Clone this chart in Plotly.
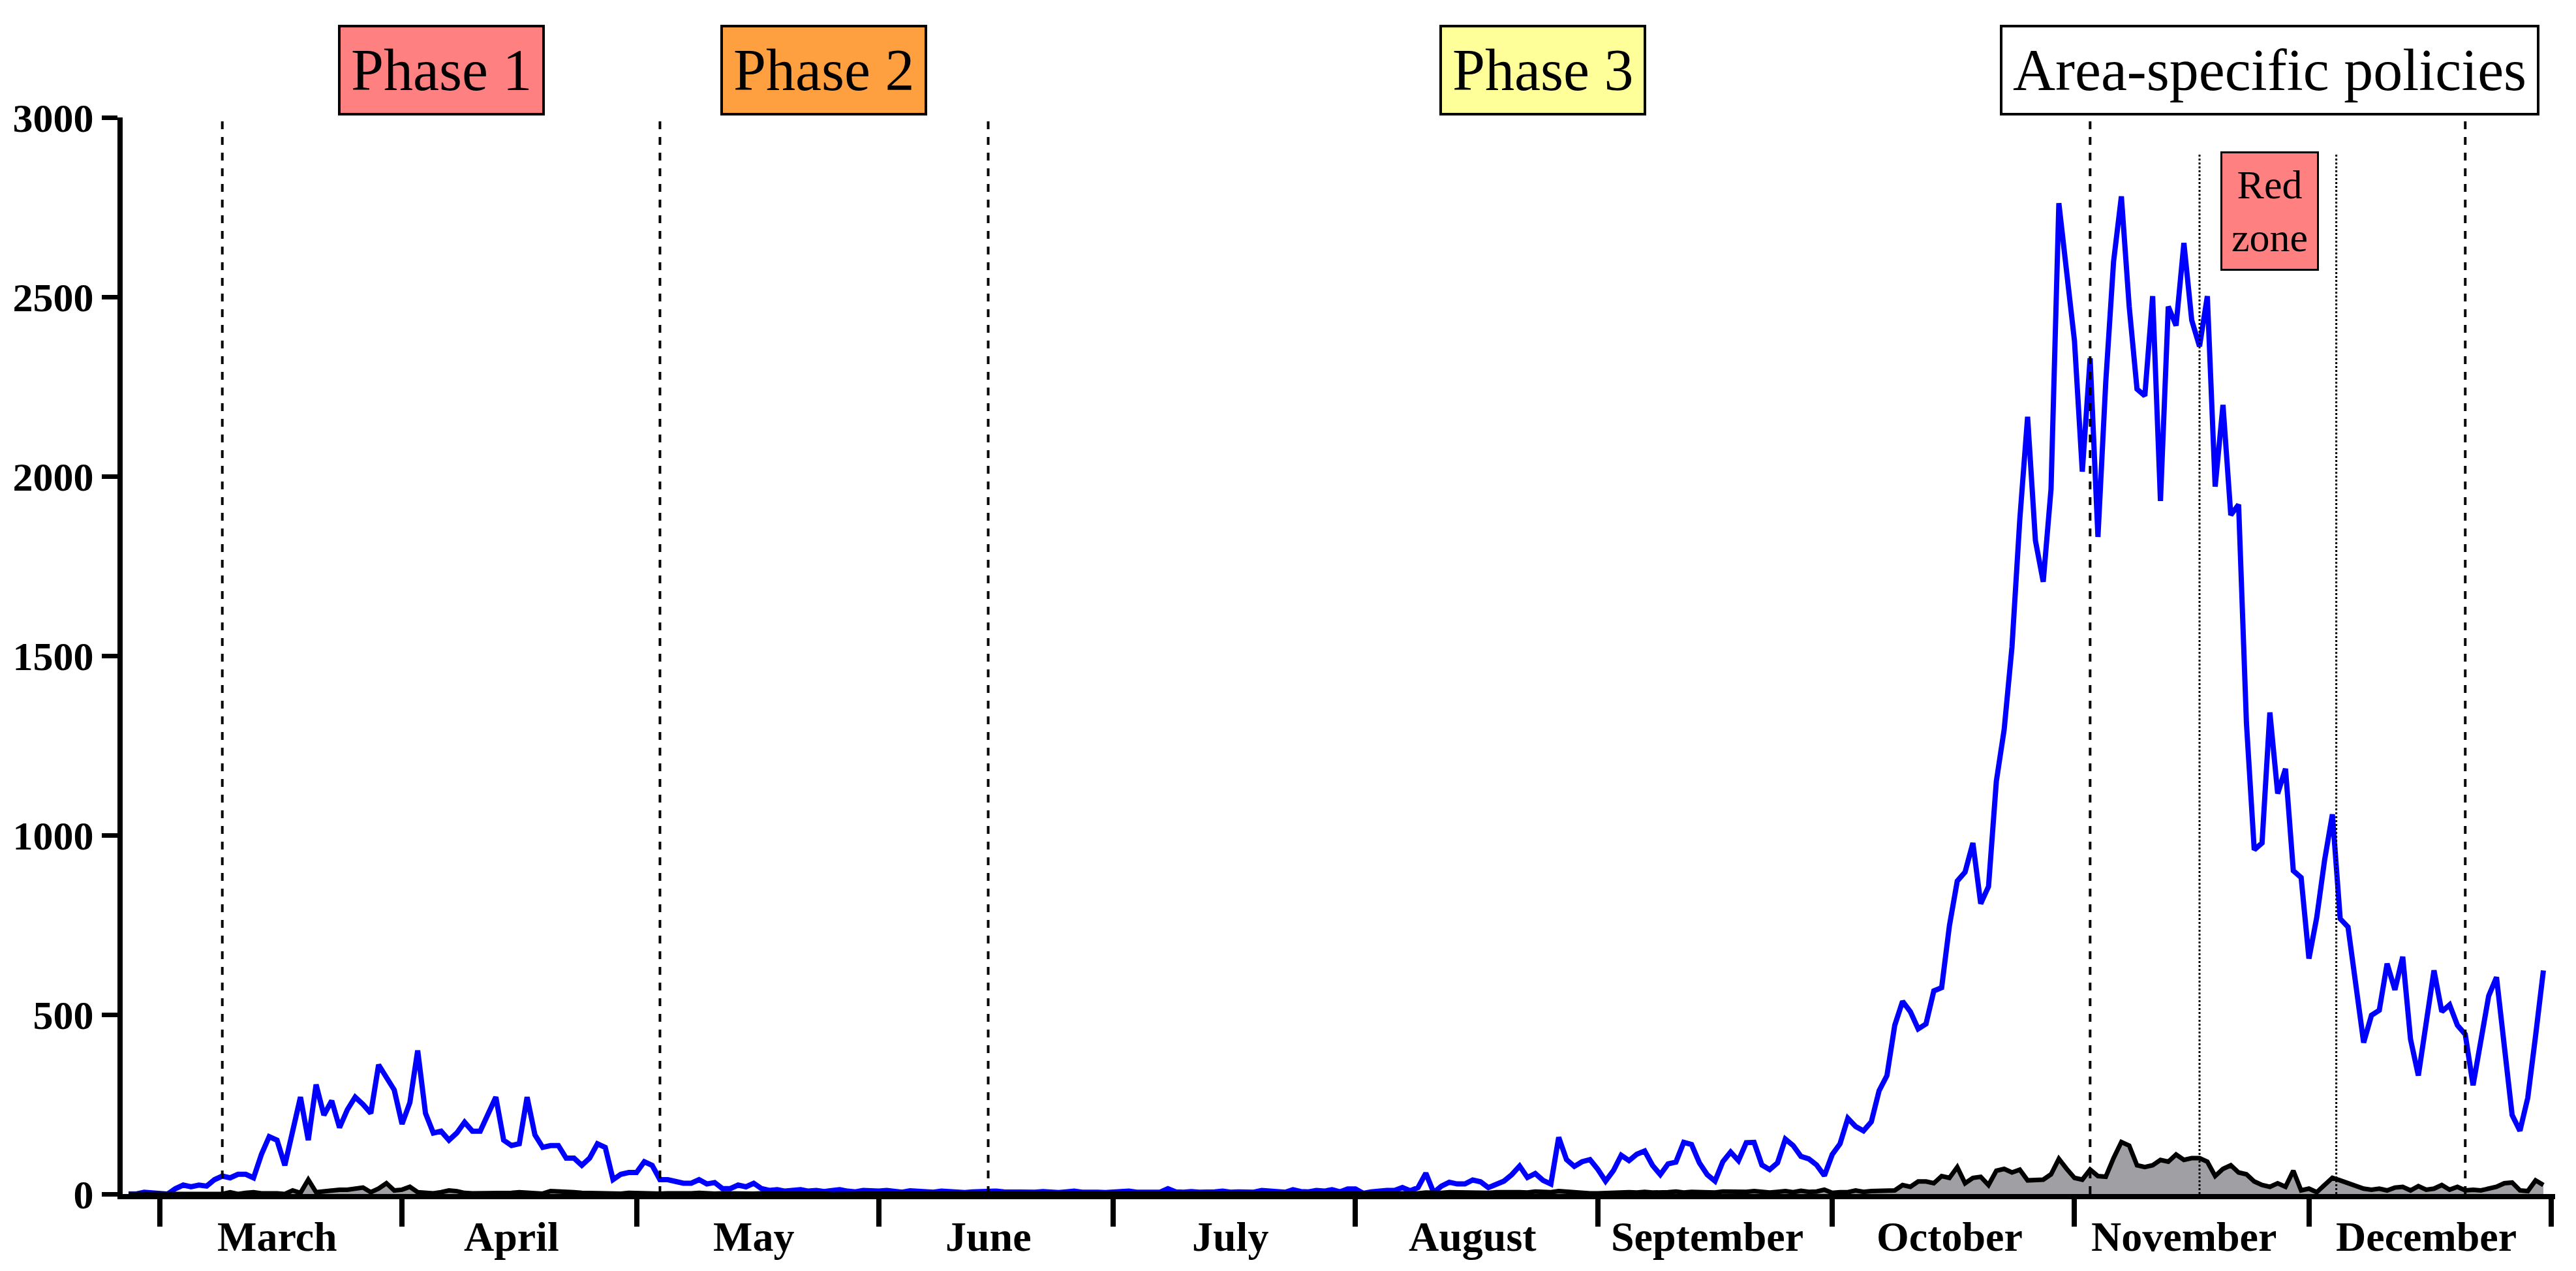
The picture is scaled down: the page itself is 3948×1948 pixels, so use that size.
import plotly.graph_objects as go
import pandas as pd

# Daily new cases (blue) by month
cases_feb = [0, 0, 5, 3]
cases_mar = [2,0,15,25,20,25,22,40,50,45,55,55,45,110,160,150,80,175,270,150,305,220,260,185,235,270,250,225,360,325,290]
cases_apr = [195,255,400,225,170,175,150,170,200,175,175,225,270,150,135,140,270,165,130,135,135,100,100,80,100,140,130,40,55,60]
cases_may = [60,90,80,40,40,35,30,30,40,28,32,15,15,25,20,30,15,10,12,8,10,12,8,10,7,10,12,8,6,10,8]
cases_jun = [8,10,6,5,9,7,6,5,8,6,5,4,6,7,5,8,6,5,4,6,5,7,5,4,6,8,5,6,5,4]
cases_jul = [5,6,8,5,4,6,5,15,6,5,7,5,4,6,8,5,6,7,5,10,8,6,5,12,7,6,10,8,12,6,14]
cases_aug = [14,2,6,9,10,10,18,9,18,58,4,22,33,28,28,39,34,18,27,36,54,78,46,57,38,28,158,96,77,90,96]
cases_sep = [69,36,65,108,93,111,120,80,54,84,89,144,138,87,54,36,90,117,93,143,144,81,68,87,153,135,105,98,81,51]
cases_oct = [110,140,211,188,176,201,288,330,470,537,508,460,474,566,575,748,872,897,978,809,857,1150,1294,1524,1879,2166,1821,1706,1965,2761,2569]
cases_nov = [2377,2013,2329,1831,2262,2598,2780,2473,2243,2224,2502,1931,2473,2420,2650,2435,2362,2502,1971,2199,1892,1921,1313,959,978,1342,1116,1185,901,882]
cases_dec = [656,771,930,1058,767,744,594,422,498,512,642,569,661,431,330,479,623,508,527,470,445,303,431,552,604,403,220,176,268,441,623]

# Daily deaths (black, filled)
deaths_feb = [0, 0, 0, 0]
deaths_mar = [0,0,0,0,2,2,3,0,0,5,0,3,5,2,3,2,0,10,3,40,5,8,10,12,12,15,18,5,15,30,10]
deaths_apr = [12,20,5,3,2,5,10,8,3,2,2,1,0,2,3,5,3,2,1,8,8,7,5,3,2,2,3,2,1,3]
deaths_may = [2,3,2,1,2,1,1,2,3,1,1,2,1,1,0,1,2,1,1,0,1,1,2,1,1,0,1,1,0,1,1]
deaths_jun = [1,0,1,1,0,1,2,1,0,1,1,0,1,0,1,1,0,1,1,0,1,0,1,1,0,1,0,1,1,0]
deaths_jul = [1,0,1,1,2,1,0,1,1,0,2,1,1,0,1,2,1,0,1,1,0,2,1,1,0,1,2,1,1,0,2]
deaths_aug = [2,1,2,3,2,1,3,2,2,4,2,3,5,4,3,5,4,3,5,6,6,5,4,7,6,5,8,6,3,2,2]
deaths_sep = [2,3,5,4,5,4,6,4,3,5,7,4,6,5,3,4,7,6,5,6,8,5,4,6,8,5,9,6,7,12]
deaths_oct = [3,5,5,10,6,8,8,10,10,25,20,35,35,30,50,45,75,30,45,48,25,65,70,60,68,38,38,40,55,98,70]
deaths_nov = [45,40,68,50,48,100,145,135,80,75,80,95,90,110,95,100,100,90,50,70,80,60,55,35,25,20,30,20,65,10]
deaths_dec = [15,5,25,45,38,30,25,15,12,15,10,18,20,10,22,12,15,25,12,20,10,12,10,15,20,30,32,10,8,38,25]

months = ["2020-02-26","2020-03-01","2020-04-01","2020-05-01","2020-06-01","2020-07-01",
          "2020-08-01","2020-09-01","2020-10-01","2020-11-01","2020-12-01"]
case_parts = [cases_feb,cases_mar,cases_apr,cases_may,cases_jun,cases_jul,cases_aug,cases_sep,cases_oct,cases_nov,cases_dec]
death_parts = [deaths_feb,deaths_mar,deaths_apr,deaths_may,deaths_jun,deaths_jul,deaths_aug,deaths_sep,deaths_oct,deaths_nov,deaths_dec]

xc, yc, xd, yd = [], [], [], []
for m, c, d in zip(months, case_parts, death_parts):
    xc += list(pd.date_range(m, periods=len(c)))
    yc += c
    xd += list(pd.date_range(m, periods=len(d)))
    yd += d

month_labels = ["March","April","May","June","July","August","September","October","November","December"]
month_starts = ["2020-03-01","2020-04-01","2020-05-01","2020-06-01","2020-07-01","2020-08-01",
                "2020-09-01","2020-10-01","2020-11-01","2020-12-01","2021-01-01"]
label_pos = ["2020-03-16","2020-04-15","2020-05-16","2020-06-15","2020-07-16","2020-08-16",
             "2020-09-15","2020-10-16","2020-11-15","2020-12-16"]
dashed_dates = ["2020-03-09","2020-05-04","2020-06-15","2020-11-03","2020-12-21"]
dotted_dates = ["2020-11-17","2020-12-04T12:00"]

phase_texts = ["Phase 1","Phase 2","Phase 3","Area-specific policies"]
phase_x = ["2020-04-06","2020-05-25","2020-08-25","2020-11-26"]
phase_colors = ["#FF8080","#FFA040","#FFFF99","#FFFFFF"]

serif = "Liberation Serif"
fig = go.Figure()
fig.add_trace(go.Scatter(x=xc, y=yc, mode="lines", line=dict(color="#0000FF", width=8), showlegend=False))
fig.add_trace(go.Scatter(x=xd, y=yd, mode="lines", fill="tozeroy", fillcolor="#A0A0A4",
                         line=dict(color="black", width=7), showlegend=False))

shapes = []
for d in dashed_dates:
    shapes.append(dict(type="line", x0=d, x1=d, y0=0, y1=3000, xref="x", yref="y",
                       line=dict(color="black", width=4, dash="dash")))
for d in dotted_dates:
    shapes.append(dict(type="line", x0=d, x1=d, y0=0, y1=2900, xref="x", yref="y",
                       line=dict(color="black", width=3, dash="dot")))

ann = []
for lab, p in zip(month_labels, label_pos):
    ann.append(dict(x=p, y=0, xref="x", yref="y", text="<b>%s</b>" % lab, showarrow=False,
                    yanchor="top", yshift=-28, font=dict(family=serif, size=64, color="black")))
for t, xp, col in zip(phase_texts, phase_x, phase_colors):
    ann.append(dict(x=xp, y=1.044, xref="x", yref="paper", yanchor="middle", text=t, showarrow=False,
                    font=dict(family=serif, size=90, color="black"), bgcolor=col,
                    bordercolor="black", borderwidth=4, borderpad=16))
ann.append(dict(x="2020-11-26", y=0.913, xref="x", yref="paper", yanchor="middle", text="Red<br>zone",
                showarrow=False, font=dict(family=serif, size=62, color="black"), bgcolor="#FF8080",
                bordercolor="black", borderwidth=3, borderpad=14))

fig.update_layout(
    width=3948, height=1948, plot_bgcolor="white", paper_bgcolor="white",
    margin=dict(l=180, r=40, t=172, b=126),
    shapes=shapes, annotations=ann,
    xaxis=dict(type="date", range=["2020-02-25T06:00", "2021-01-01T12:00"], tickmode="array",
               tickvals=month_starts, ticktext=[""]*len(month_starts), ticks="outside",
               ticklen=42, tickwidth=8, tickcolor="black", showline=True, linecolor="black",
               linewidth=8, showgrid=False, zeroline=False),
    yaxis=dict(range=[0, 3000], tickmode="array", tickvals=[0,500,1000,1500,2000,2500,3000],
               ticktext=["<b>%d</b>" % v for v in [0,500,1000,1500,2000,2500,3000]],
               ticks="outside", ticklen=24, tickwidth=7, tickcolor="black", showline=True,
               linecolor="black", linewidth=8, showgrid=False, zeroline=False,
               tickfont=dict(family=serif, size=62, color="black")),
)
fig.write_html("out.html")
